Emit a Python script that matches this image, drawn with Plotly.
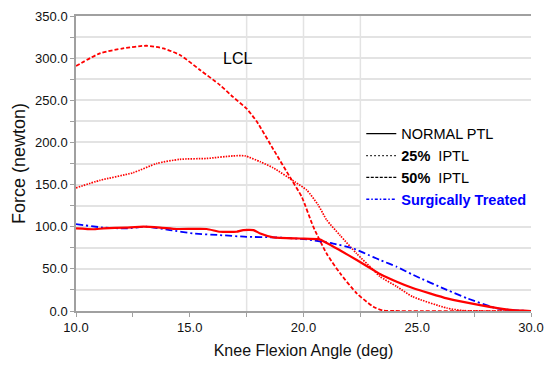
import plotly.graph_objects as go

# ---- data ----
normal_x = [10, 10.76, 11.2, 12.2, 12.96, 13.7, 14.43, 15.75, 16.33, 17.06, 17.35, 17.8, 18.1, 18.67,
            19.85, 20.7, 21.6, 22.34, 23.07, 23.36, 24.1, 24.83, 26.3, 27.76, 29.2, 30]
normal_y = [98, 97, 98, 99, 100, 99, 97.3, 97.3, 94, 94, 96, 96, 92, 87.4,
            86, 85, 72, 60.5, 48.6, 44, 34.8, 27, 15, 7, 1, 0]

p25_x = [10, 11.05, 12.5, 13.55, 14.57, 15.75, 16.9, 17.43, 18.1, 18.66, 19.63, 20.14, 20.64, 21.02,
         21.6, 22.34, 23.06, 23.36, 24.1, 24.8, 26.3, 27, 28, 30]
p25_y = [146, 155, 164, 175, 180, 181, 184, 184, 177, 170, 153, 143.5, 126, 108,
         90, 68, 49, 41, 29, 17, 3.5, 0.5, 0, 0]

p50_x = [10, 11.05, 12.07, 13.1, 13.84, 14.57, 15.45, 16.33, 16.9, 17.5, 17.94, 18.67, 19.4, 19.92,
         20.43, 21.02, 21.6, 22.34, 23.07, 23.5, 24, 30]
p50_y = [290.6, 305.7, 311.6, 314.7, 311.6, 303.7, 286, 268, 254, 240, 225, 192, 159, 135.6,
         100, 68, 45, 21, 5, 0.5, 0, 0]

surg_x = [10, 11.2, 12.2, 13.1, 14.13, 15.15, 16.33, 17.5, 18.67, 20.14, 21.3, 22.2, 23.07, 23.36,
          24.1, 24.83, 26.3, 27.2, 28.5, 29.5, 30]
surg_y = [103, 99, 98, 100, 96, 92, 90, 88, 87.4, 85, 80, 74, 64, 60.5,
          52.5, 42.7, 25, 15, 3, 0.5, 0]

legend_names = ["NORMAL PTL", "<b>25%</b>  IPTL", "<b>50%</b>  IPTL",
                "<span style='color:#0000ff'><b>Surgically Treated</b></span>"]
vgrid_x = [17.5, 20, 22.5]
annotation_text = "LCL"
annotation_pos = (17.1, 300)

RED = "#ff0000"
BLUE = "#0000ff"

fig = go.Figure()

fig.add_trace(go.Scatter(x=p50_x, y=p50_y, mode="lines", showlegend=False,
                         line=dict(color=RED, width=1.8, dash="4px,2px", shape="spline", smoothing=0.6)))
fig.add_trace(go.Scatter(x=p25_x, y=p25_y, mode="lines", showlegend=False,
                         line=dict(color=RED, width=1.7, dash="1.5px,1.2px", shape="spline", smoothing=0.6)))
fig.add_trace(go.Scatter(x=surg_x, y=surg_y, mode="lines", showlegend=False,
                         line=dict(color=BLUE, width=1.8, dash="7px,3px,2px,3px", shape="spline", smoothing=0.5)))
fig.add_trace(go.Scatter(x=normal_x, y=normal_y, mode="lines", showlegend=False,
                         line=dict(color=RED, width=2.2, shape="spline", smoothing=0.4)))

# legend-only entries (black symbols as in the reference)
leg_styles = [dict(color="#000000", width=1.2, dash="solid"),
              dict(color="#000000", width=1.2, dash="1.5px,2.5px"),
              dict(color="#000000", width=1.4, dash="3px,1.5px"),
              dict(color=BLUE, width=1.4, dash="3px,2px,1.5px,2px")]
for i, (name, st) in enumerate(zip(legend_names, leg_styles)):
    fig.add_trace(go.Scatter(x=[None], y=[None], mode="lines", name=name, line=st,
                             legendgroup="g%d" % i))

for vx in vgrid_x:
    fig.add_shape(type="line", xref="x", yref="paper", x0=vx, x1=vx, y0=0, y1=1,
                  line=dict(color="#e3e3e3", width=1.5), layer="below")

fig.add_annotation(x=annotation_pos[0], y=annotation_pos[1], text=annotation_text, showarrow=False,
                   font=dict(family="Liberation Sans, Arial", size=16, color="#000000"))

tick_font = dict(family="Liberation Sans, Arial", size=13, color="#111111")

fig.update_layout(
    width=546, height=365,
    margin=dict(l=76, r=15, t=16, b=54, autoexpand=False),
    paper_bgcolor="white", plot_bgcolor="white",
    legend=dict(x=0.627, y=0.655, xanchor="left", yanchor="top", bgcolor="white",
                font=dict(family="Liberation Sans, Arial", size=14.5, color="#000000"),
                itemwidth=30, tracegroupgap=0),
    xaxis=dict(range=[10, 30], dtick=5, tick0=10, tickformat=".1f", ticks="outside", ticklen=4,
               tickcolor="#a0a0a0", showline=True, linecolor="#a0a0a0", linewidth=1.5, mirror=True,
               showgrid=False, zeroline=False, tickfont=tick_font,
               minor=dict(dtick=2.5, ticks="outside", ticklen=4, tickcolor="#a0a0a0", showgrid=False),
               title=dict(text="Knee Flexion Angle (deg)", standoff=10,
                          font=dict(family="Liberation Sans, Arial", size=16, color="#111111"))),
    yaxis=dict(range=[0, 350], dtick=50, tick0=0, tickformat=".1f", ticks="outside", ticklen=4,
               tickcolor="#a0a0a0", showline=True, linecolor="#a0a0a0", linewidth=1.5,
               showgrid=True, gridcolor="#e3e3e3", gridwidth=1.5, zeroline=False, tickfont=tick_font,
               minor=dict(dtick=25, ticks="outside", ticklen=4, tickcolor="#a0a0a0",
                          showgrid=True, gridcolor="#e3e3e3", gridwidth=1.5),
               title=dict(text="Force (newton)", standoff=5,
                          font=dict(family="Liberation Sans, Arial", size=18, color="#111111"))),
)

fig.write_html("out.html")
